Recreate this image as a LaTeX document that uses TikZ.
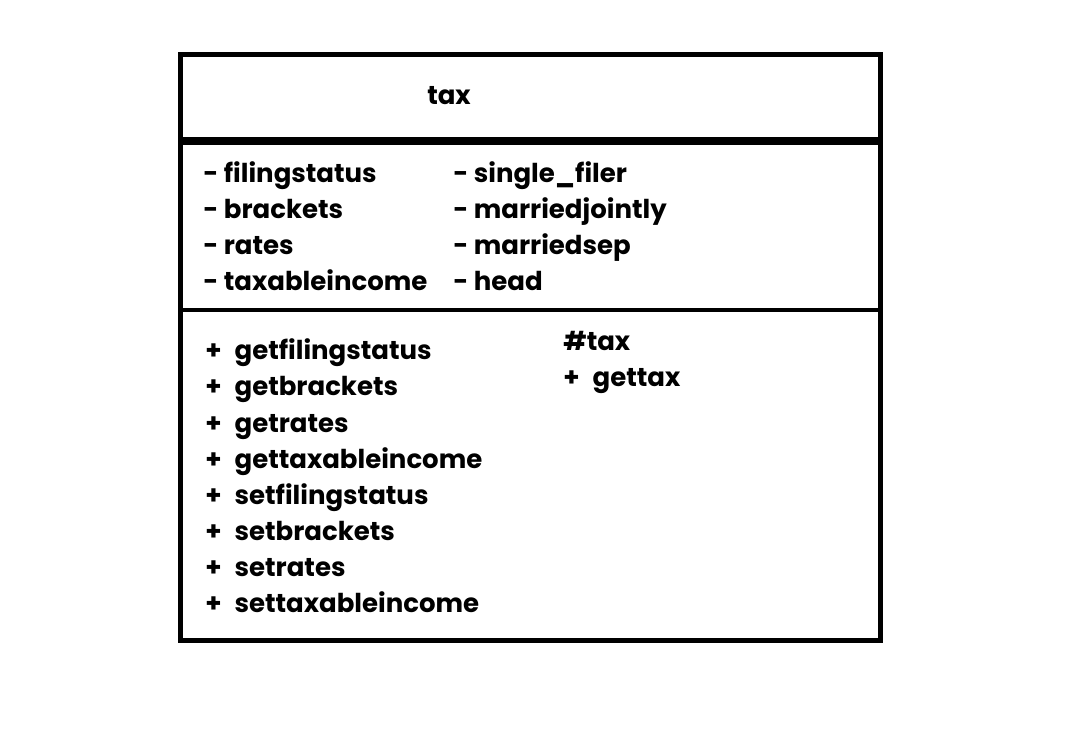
\documentclass[tikz,border=0pt]{standalone}
\usepackage{fontspec}
\setmainfont{Poppins}
\usetikzlibrary{positioning}

\tikzset{
  member/.style={anchor=base west, inner sep=0pt, font=\fontsize{19.5}{22}\selectfont\bfseries},
  title/.style={anchor=base, inner sep=0pt, font=\fontsize{19.5}{22}\selectfont\bfseries},
  frame/.style={draw, line width=3.5pt},
  rule/.style={draw, line width=3pt},
  thickrule/.style={draw, line width=6pt}
}

\begin{document}
\begin{tikzpicture}[x=0.75pt, y=-0.75pt, node distance=27pt]
  \useasboundingbox (0,0) rectangle (1074,748);

  % Define corners
  \coordinate (nw) at (180.5,54.5);
  \coordinate (se) at (880.5,640.5);
  \coordinate (hl) at (180.5,141);
  \coordinate (hr) at (880.5,141);
  \coordinate (al) at (180.5,310.5);
  \coordinate (ar) at (880.5,310.5);

  % Define nodes
  \node[title]                        (cls)   at (449,105) {tax};

  \node[member]                       (fs)    at (203,183) {- filingstatus};
  \node[member, below=of fs.base west, anchor=base west]   (br)    {- brackets};
  \node[member, below=of br.base west, anchor=base west]   (ra)    {- rates};
  \node[member, below=of ra.base west, anchor=base west]   (ti)    {- taxableincome};

  \node[member]                       (sf)    at (453,183) {- single\_filer};
  \node[member, below=of sf.base west, anchor=base west]   (mj)    {- marriedjointly};
  \node[member, below=of mj.base west, anchor=base west]   (ms)    {- marriedsep};
  \node[member, below=of ms.base west, anchor=base west]   (hd)    {- head};

  \node[member]                       (gfs)   at (205,360) {+\enspace getfilingstatus};
  \node[member, below=of gfs.base west, anchor=base west]  (gbr)   {+\enspace getbrackets};
  \node[member, below=of gbr.base west, anchor=base west]  (gra)   {+\enspace getrates};
  \node[member, below=of gra.base west, anchor=base west]  (gti)   {+\enspace gettaxableincome};
  \node[member, below=of gti.base west, anchor=base west]  (sfs)   {+\enspace setfilingstatus};
  \node[member, below=of sfs.base west, anchor=base west]  (sbr)   {+\enspace setbrackets};
  \node[member, below=of sbr.base west, anchor=base west]  (sra)   {+\enspace setrates};
  \node[member, below=of sra.base west, anchor=base west]  (sti)   {+\enspace settaxableincome};

  \node[member]                       (ctor)  at (563,351) {\#tax};
  \node[member, below=of ctor.base west, anchor=base west] (gtx)   {+\enspace gettax};

  % Draw the box
  \draw[frame] (nw) rectangle (se);
  \draw[thickrule] (hl) -- (hr);
  \draw[rule] (al) -- (ar);
\end{tikzpicture}
\end{document}
